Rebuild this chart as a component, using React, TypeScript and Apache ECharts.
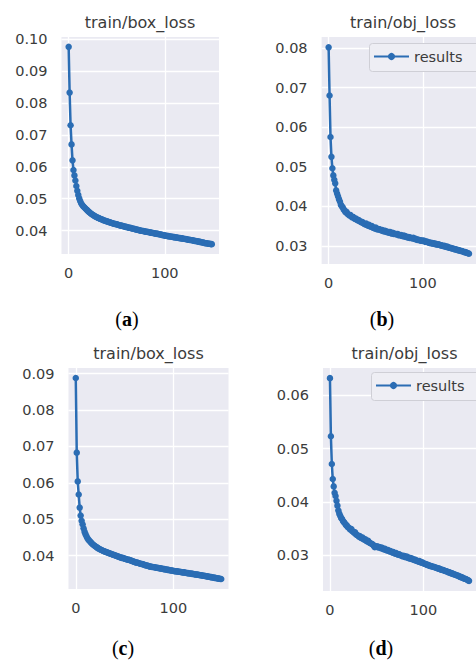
import React, { useEffect, useRef } from "react";
import * as echarts from "echarts";

const epochs: number[] = Array.from({ length: 150 }, (_, i) => i);

const boxLossA: number[] = [
  0.0975, 0.0832, 0.0730, 0.0670, 0.0620, 0.0590, 0.0573, 0.0557, 0.0540, 0.0525,
  0.0512, 0.0501, 0.0493, 0.0486, 0.0481, 0.0477, 0.0474, 0.0471, 0.0468, 0.0465,
  0.0462, 0.0459, 0.0457, 0.0454, 0.0452, 0.0450, 0.0448, 0.0446, 0.0444, 0.0443,
  0.0441, 0.0440, 0.0438, 0.0437, 0.0436, 0.0435, 0.0433, 0.0432, 0.0431, 0.0430,
  0.0429, 0.0428, 0.0427, 0.0426, 0.0425, 0.0424, 0.0423, 0.0422, 0.0421, 0.0421,
  0.0420, 0.0419, 0.0418, 0.0417, 0.0416, 0.0416, 0.0415, 0.0414, 0.0413, 0.0412,
  0.0412, 0.0411, 0.0410, 0.0409, 0.0409, 0.0408, 0.0407, 0.0406, 0.0406, 0.0405,
  0.0404, 0.0403, 0.0403, 0.0402, 0.0401, 0.0400, 0.0400, 0.0399, 0.0399, 0.0398,
  0.0397, 0.0397, 0.0396, 0.0396, 0.0395, 0.0394, 0.0394, 0.0393, 0.0393, 0.0392,
  0.0391, 0.0391, 0.0390, 0.0390, 0.0389, 0.0388, 0.0388, 0.0387, 0.0386, 0.0386,
  0.0385, 0.0384, 0.0384, 0.0383, 0.0383, 0.0382, 0.0382, 0.0381, 0.0381, 0.0380,
  0.0380, 0.0379, 0.0379, 0.0378, 0.0378, 0.0377, 0.0377, 0.0376, 0.0376, 0.0375,
  0.0375, 0.0374, 0.0374, 0.0373, 0.0372, 0.0372, 0.0371, 0.0371, 0.0370, 0.0370,
  0.0369, 0.0368, 0.0368, 0.0367, 0.0367, 0.0366, 0.0365, 0.0365, 0.0364, 0.0363,
  0.0363, 0.0362, 0.0361, 0.0361, 0.0360, 0.0360, 0.0359, 0.0359, 0.0358, 0.0358,
];

const objLossB: number[] = [
  0.0802, 0.0680, 0.0575, 0.0525, 0.0496, 0.0478, 0.0467, 0.0458, 0.0440, 0.0432,
  0.0425, 0.0418, 0.0412, 0.0404, 0.0400, 0.0397, 0.0392, 0.0389, 0.0385, 0.0386,
  0.0381, 0.0379, 0.0377, 0.0378, 0.0374, 0.0372, 0.0373, 0.0370, 0.0368, 0.0369,
  0.0366, 0.0364, 0.0365, 0.0362, 0.0361, 0.0359, 0.0360, 0.0357, 0.0355, 0.0354,
  0.0356, 0.0352, 0.0351, 0.0353, 0.0349, 0.0348, 0.0350, 0.0346, 0.0345, 0.0344,
  0.0346, 0.0342, 0.0343, 0.0341, 0.0342, 0.0340, 0.0339, 0.0340, 0.0337, 0.0337,
  0.0338, 0.0335, 0.0336, 0.0334, 0.0333, 0.0335, 0.0332, 0.0331, 0.0333, 0.0330,
  0.0331, 0.0329, 0.0329, 0.0330, 0.0327, 0.0328, 0.0326, 0.0327, 0.0325, 0.0324,
  0.0326, 0.0323, 0.0324, 0.0322, 0.0321, 0.0322, 0.0320, 0.0321, 0.0319, 0.0319,
  0.0320, 0.0317, 0.0318, 0.0316, 0.0315, 0.0316, 0.0314, 0.0314, 0.0313, 0.0313,
  0.0312, 0.0313, 0.0311, 0.0310, 0.0311, 0.0309, 0.0309, 0.0307, 0.0308, 0.0306,
  0.0307, 0.0305, 0.0306, 0.0304, 0.0305, 0.0303, 0.0303, 0.0304, 0.0302, 0.0301,
  0.0301, 0.0300, 0.0299, 0.0300, 0.0298, 0.0297, 0.0298, 0.0296, 0.0295, 0.0295,
  0.0294, 0.0293, 0.0293, 0.0292, 0.0291, 0.0291, 0.0290, 0.0289, 0.0289, 0.0288,
  0.0287, 0.0287, 0.0286, 0.0285, 0.0284, 0.0284, 0.0283, 0.0282, 0.0281, 0.0280,
];

const boxLossC: number[] = [
  0.0888, 0.0683, 0.0604, 0.0568, 0.0532, 0.0510, 0.0496, 0.0486, 0.0475, 0.0466,
  0.0459, 0.0453, 0.0448, 0.0444, 0.0441, 0.0438, 0.0435, 0.0432, 0.0430, 0.0428,
  0.0426, 0.0424, 0.0422, 0.0420, 0.0419, 0.0417, 0.0416, 0.0415, 0.0413, 0.0412,
  0.0411, 0.0410, 0.0409, 0.0408, 0.0407, 0.0406, 0.0405, 0.0404, 0.0403, 0.0402,
  0.0401, 0.0400, 0.0399, 0.0398, 0.0397, 0.0396, 0.0395, 0.0394, 0.0394, 0.0393,
  0.0392, 0.0391, 0.0390, 0.0389, 0.0389, 0.0388, 0.0387, 0.0386, 0.0385, 0.0384,
  0.0383, 0.0382, 0.0381, 0.0381, 0.0380, 0.0379, 0.0378, 0.0377, 0.0377, 0.0376,
  0.0375, 0.0374, 0.0373, 0.0373, 0.0372, 0.0371, 0.0370, 0.0370, 0.0369, 0.0369,
  0.0368, 0.0368, 0.0367, 0.0367, 0.0366, 0.0366, 0.0365, 0.0365, 0.0364, 0.0364,
  0.0363, 0.0363, 0.0362, 0.0362, 0.0361, 0.0361, 0.0360, 0.0360, 0.0359, 0.0359,
  0.0358, 0.0358, 0.0357, 0.0357, 0.0357, 0.0356, 0.0356, 0.0355, 0.0355, 0.0354,
  0.0354, 0.0354, 0.0353, 0.0353, 0.0352, 0.0352, 0.0351, 0.0351, 0.0351, 0.0350,
  0.0350, 0.0349, 0.0349, 0.0348, 0.0348, 0.0348, 0.0347, 0.0347, 0.0346, 0.0346,
  0.0345, 0.0345, 0.0344, 0.0344, 0.0343, 0.0343, 0.0342, 0.0342, 0.0341, 0.0341,
  0.0340, 0.0340, 0.0339, 0.0339, 0.0338, 0.0338, 0.0337, 0.0337, 0.0336, 0.0336,
];

const objLossD: number[] = [
  0.0632, 0.0523, 0.0471, 0.0443, 0.0429, 0.0417, 0.0411, 0.0402, 0.0393, 0.0384,
  0.0378, 0.0374, 0.0370, 0.0368, 0.0364, 0.0362, 0.0360, 0.0357, 0.0356, 0.0353,
  0.0352, 0.0350, 0.0348, 0.0349, 0.0345, 0.0344, 0.0342, 0.0343, 0.0339, 0.0338,
  0.0337, 0.0335, 0.0336, 0.0333, 0.0332, 0.0333, 0.0330, 0.0329, 0.0330, 0.0327,
  0.0326, 0.0327, 0.0324, 0.0323, 0.0322, 0.0321, 0.0320, 0.0318, 0.0315, 0.0316,
  0.0317, 0.0315, 0.0316, 0.0314, 0.0315, 0.0313, 0.0314, 0.0312, 0.0311, 0.0312,
  0.0310, 0.0309, 0.0310, 0.0308, 0.0307, 0.0308, 0.0306, 0.0305, 0.0306, 0.0304,
  0.0303, 0.0304, 0.0302, 0.0301, 0.0302, 0.0300, 0.0300, 0.0299, 0.0298, 0.0299,
  0.0297, 0.0298, 0.0296, 0.0297, 0.0295, 0.0294, 0.0295, 0.0293, 0.0294, 0.0292,
  0.0291, 0.0292, 0.0290, 0.0290, 0.0289, 0.0288, 0.0289, 0.0287, 0.0286, 0.0287,
  0.0285, 0.0284, 0.0284, 0.0283, 0.0282, 0.0282, 0.0281, 0.0280, 0.0280, 0.0279,
  0.0279, 0.0278, 0.0278, 0.0277, 0.0276, 0.0276, 0.0275, 0.0275, 0.0274, 0.0273,
  0.0273, 0.0272, 0.0272, 0.0271, 0.0270, 0.0270, 0.0269, 0.0268, 0.0268, 0.0267,
  0.0266, 0.0266, 0.0265, 0.0264, 0.0264, 0.0263, 0.0262, 0.0262, 0.0261, 0.0260,
  0.0259, 0.0259, 0.0258, 0.0257, 0.0256, 0.0256, 0.0255, 0.0254, 0.0253, 0.0252,
];

const panelTitles: string[] = ["train/box_loss", "train/obj_loss", "train/box_loss", "train/obj_loss"];
const panelLetters: string[] = ["a", "b", "c", "d"];
const seriesName = "results";

const panels = [
  { values: boxLossA, grid: { left: 61.5, top: 37, width: 157.5, height: 217 }, title: [140, 22], letter: [127, 319] },
  { values: objLossB, grid: { left: 321.6, top: 37, width: 163, height: 227 }, title: [403, 22], letter: [382, 319] },
  { values: boxLossC, grid: { left: 68.5, top: 368, width: 160, height: 221 }, title: [148.5, 353], letter: [123, 648] },
  { values: objLossD, grid: { left: 323, top: 368, width: 163, height: 223 }, title: [404.5, 353], letter: [381, 648] },
];

const legendBoxes = [
  { x: 369, y: 43 },
  { x: 371, y: 372 },
];

const TEXT = "#3b3b3b";
const LINE = "#2b6db4";
const FONT = "DejaVu Sans";

export default function App() {
  const ref = useRef<HTMLDivElement>(null);
  useEffect(() => {
    if (!ref.current) return;
    const chart = echarts.init(ref.current, null, { renderer: "svg" });

    const grids: any[] = [];
    const xAxes: any[] = [];
    const yAxes: any[] = [];
    const series: any[] = [];
    const graphics: any[] = [];

    panels.forEach((p, i) => {
      const vals = p.values;
      const lo = Math.min(...vals);
      const hi = Math.max(...vals);
      const m = (hi - lo) * 0.05;
      const ymin = lo - m;
      const ymax = hi + m;
      const xlo = epochs[0];
      const xhi = epochs[epochs.length - 1];
      const xm = (xhi - xlo) * 0.05;

      grids.push({
        ...p.grid,
        show: true,
        backgroundColor: "#eaeaf2",
        borderWidth: 0,
        containLabel: false,
      });
      xAxes.push({
        type: "value",
        gridIndex: i,
        min: xlo - xm,
        max: xhi + xm,
        splitNumber: 2,
        axisLine: { show: false },
        axisTick: { show: false },
        axisLabel: {
          showMinLabel: false,
          showMaxLabel: false,
          margin: 11,
          fontSize: 14.5,
          fontFamily: FONT,
          color: TEXT,
          formatter: (v: number) => String(Math.round(v)),
        },
        splitLine: { show: true, showMinLine: false, showMaxLine: false, lineStyle: { color: "#ffffff", width: 1.3 } },
      });
      yAxes.push({
        type: "value",
        gridIndex: i,
        min: ymin,
        max: ymax,
        splitNumber: Math.round((ymax - ymin) / 0.01),
        axisLine: { show: false },
        axisTick: { show: false },
        axisLabel: {
          showMinLabel: false,
          showMaxLabel: false,
          margin: 14,
          fontSize: 14.5,
          fontFamily: FONT,
          color: TEXT,
          formatter: (v: number) => v.toFixed(2),
        },
        splitLine: { show: true, showMinLine: false, showMaxLine: false, lineStyle: { color: "#ffffff", width: 1.3 } },
      });
      series.push({
        type: "line",
        name: seriesName,
        xAxisIndex: i,
        yAxisIndex: i,
        data: vals.map((v, k) => [epochs[k], v]),
        symbol: "circle",
        symbolSize: 6.5,
        showSymbol: true,
        lineStyle: { width: 2.5, color: LINE },
        itemStyle: { color: LINE },
        emphasis: { disabled: true },
      });
      graphics.push({
        type: "text",
        x: p.title[0],
        y: p.title[1],
        style: {
          text: panelTitles[i],
          fill: TEXT,
          font: `16px "${FONT}"`,
          textAlign: "center",
          textVerticalAlign: "middle",
        },
      });
      graphics.push({
        type: "text",
        x: p.letter[0],
        y: p.letter[1],
        style: {
          text: "({b|" + panelLetters[i] + "})",
          fill: "#000000",
          font: `20px "Liberation Serif"`,
          textAlign: "center",
          textVerticalAlign: "middle",
          rich: {
            b: { fontWeight: "bold", fontSize: 20, fontFamily: "Liberation Serif", fill: "#000000" },
          },
        },
      });
    });

    legendBoxes.forEach((b) => {
      graphics.push({
        type: "rect",
        z: 3,
        shape: { x: b.x + 0.5, y: b.y + 0.5, width: 120, height: 28, r: 3 },
        style: { fill: "#eeeef4", stroke: "#cfcfd6", lineWidth: 1 },
      });
    });

    const legendCommon = {
      data: [seriesName],
      orient: "horizontal",
      itemWidth: 35,
      itemHeight: 9,
      itemGap: 10,
      padding: [6, 4, 6, 4],
      z: 5,
      selectedMode: false,
      textStyle: { fontSize: 14.5, fontFamily: FONT, color: TEXT },
    };

    chart.setOption({
      animation: false,
      backgroundColor: "#ffffff",
      grid: grids,
      xAxis: xAxes,
      yAxis: yAxes,
      series,
      legend: legendBoxes.map((b) => ({ ...legendCommon, left: b.x, top: b.y })),
      graphic: graphics,
    });
    return () => chart.dispose();
  }, []);

  return (
    <div
      ref={ref}
      style={{ position: "fixed", left: 0, top: 0, width: 476, height: 664, background: "#fff" }}
    />
  );
}
